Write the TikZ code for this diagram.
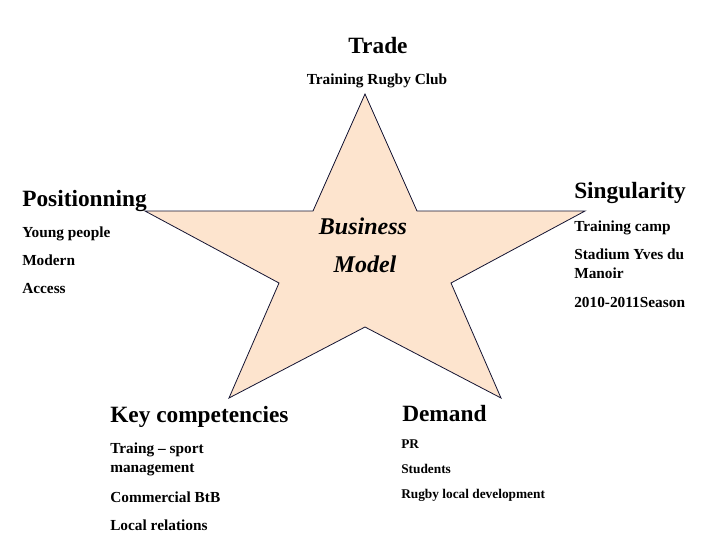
\documentclass[tikz,border=0pt]{standalone}
\usepackage{fontspec}
\setmainfont{Liberation Serif}
\usepackage{xcolor}
\definecolor{peach}{RGB}{253,228,206}
\definecolor{starline}{RGB}{20,20,50}
\newcommand{\twolines}[2]{\begin{tabular}[t]{@{}l@{}}#1\\#2\end{tabular}}

\begin{document}
\begin{tikzpicture}[x=0.75pt,y=-0.75pt,
  head/.style={anchor=base west,inner sep=0pt,font=\bfseries\fontsize{17.5}{20}\selectfont},
  item/.style={anchor=base west,inner sep=0pt,font=\bfseries\fontsize{11.5}{14.3}\selectfont},
  small/.style={anchor=base west,inner sep=0pt,font=\bfseries\fontsize{10}{12}\selectfont},
  bm/.style={anchor=base,inner sep=0pt,font=\bfseries\itshape\fontsize{18}{20}\selectfont}]
\useasboundingbox (0,0) rectangle (720,540);
% the star
\draw[fill=peach,draw=starline,line width=0.6pt,line join=miter]
  (365,94) -- (417,211) -- (585,211) -- (451,283) -- (501,398) -- (365,327)
  -- (229,398) -- (279,283) -- (145,211) -- (313,211) -- cycle;
\node[bm] (bus) at (363,234) {Business};
\node[bm] (mod) at (365,272) {Model};
% top
\node[head,anchor=base] (trade) at (378,53) {Trade};
\node[item,anchor=base] (club) at (377,84) {Training Rugby Club};
% left
\node[head] (pos) at (22,206) {Positionning};
\node[item] (young) at (22,237) {Young people};
\node[item] (modern) at (22,265) {Modern};
\node[item] (access) at (22,293) {Access};
% right
\node[head] (sing) at (574,198) {Singularity};
\node[item] (camp) at (574,231) {Training camp};
\node[item] (stad) at (574,259) {\twolines{Stadium Yves du}{Manoir}};
\node[item] (season) at (574,307) {2010-2011Season};
% bottom left
\node[head] (key) at (110,422) {Key competencies};
\node[item] (traing) at (110,453) {\twolines{Traing -- sport}{management}};
\node[item] (btb) at (110,502) {Commercial BtB};
\node[item] (local) at (110,530) {Local relations};
% bottom right
\node[head] (dem) at (402,421) {Demand};
\node[small] (pr) at (401,448) {PR};
\node[small] (stud) at (401,473) {Students};
\node[small] (dev) at (401,498) {Rugby local development};
\end{tikzpicture}
\end{document}
